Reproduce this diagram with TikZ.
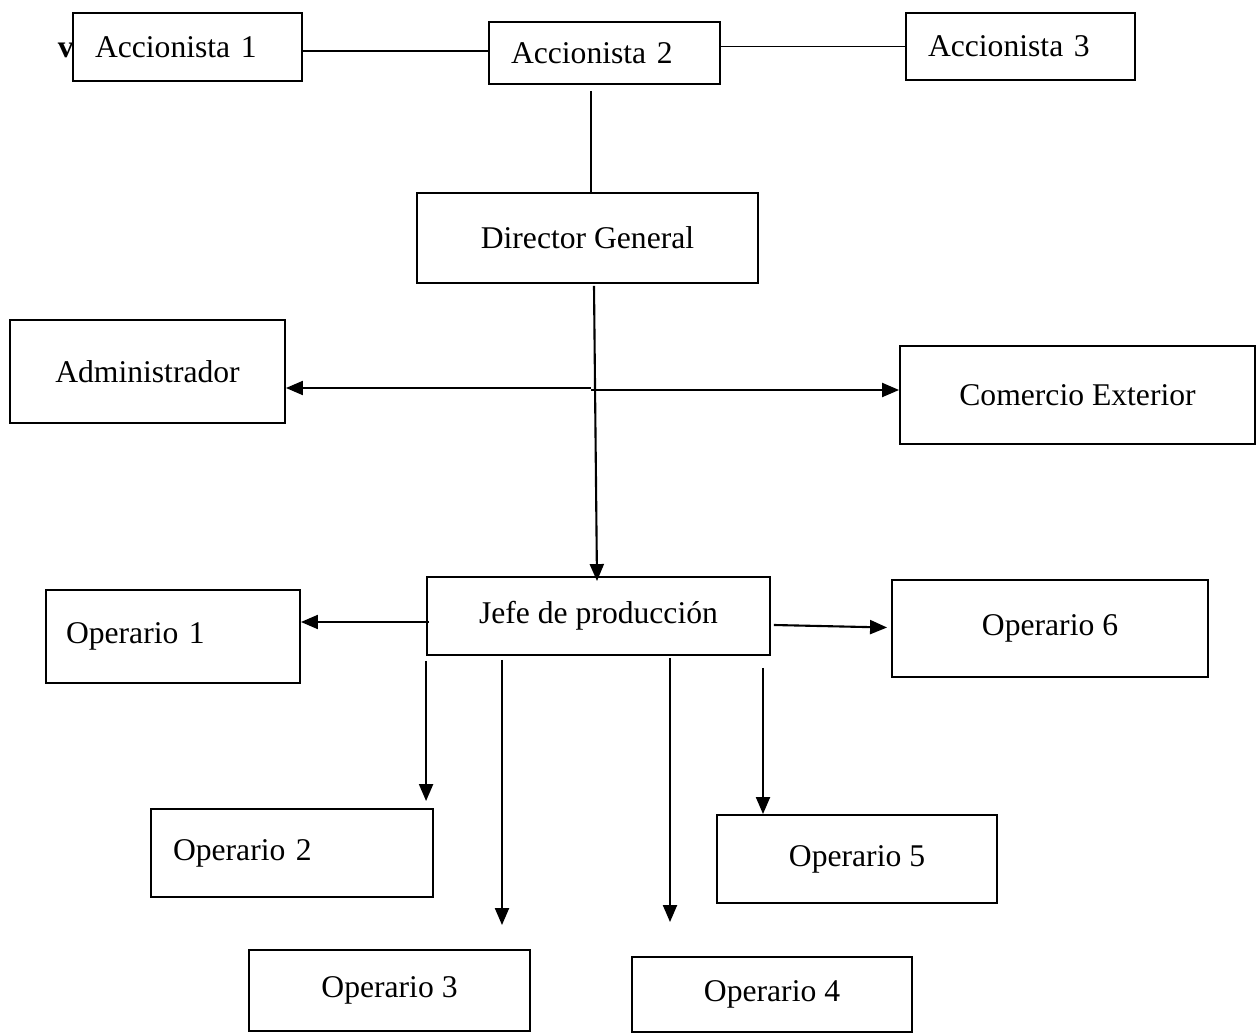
\documentclass[tikz,border=0pt]{standalone}
\usepackage{fontspec}
\setmainfont{Liberation Serif}
\usetikzlibrary{positioning,calc,arrows.meta}

\begin{document}
\begin{tikzpicture}[
	x=0.02cm, y=-0.02cm,
	% Style de las cajas
	caja/.style={
		rectangle,
		draw=black,
		line width=1.1pt,
		inner sep=0pt,
		font=\fontsize{18}{21}\selectfont
	},
	% Caja con texto a la izquierda
	cajaizq/.style={
		caja,
		align=left,
		inner xsep=0.44cm
	},
	linea/.style={draw=black, line width=0.6pt},
	flecha/.style={-{Triangle[length=0.34cm, width=0.28cm]}, draw=black, line width=1.2pt}
]
	\useasboundingbox (0,0) rectangle (1257,1033);
	
	% --- ACCIONISTAS ---
	\node[cajaizq, text width=3.70cm, minimum height=1.36cm] (acc1) at (187.5,47) {Accionista 1};
	\node[cajaizq, text width=3.74cm, minimum height=1.24cm] (acc2) at (604.5,53) {Accionista 2};
	\node[cajaizq, text width=3.70cm, minimum height=1.34cm] (acc3) at (1020.5,46.5) {Accionista 3};
	\node[font=\bfseries\fontsize{18}{21}\selectfont, inner sep=0pt, anchor=base east] (marca) at ($(acc1.base west)+(2,0)$) {v};
	
	% --- DIRECCION ---
	\node[caja, minimum width=6.82cm, minimum height=1.8cm] (dir) at (587.5,238) {Director General};
	\node[caja, minimum width=5.5cm, minimum height=2.06cm] (adm) at (147.5,371.5) {Administrador};
	\node[caja, minimum width=7.1cm, minimum height=1.96cm] (com) at (1077.5,395) {Comercio Exterior};
	\node[caja, minimum width=6.86cm, minimum height=1.56cm] (jefe) at (598.5,616) {Jefe de producción};
	
	% --- OPERARIOS ---
	\node[cajaizq, inner xsep=0.4cm, text width=4.28cm, minimum height=1.86cm] (op1) at (173,636.5) {Operario 1};
	\node[cajaizq, text width=4.76cm, minimum height=1.76cm] (op2) at (292,853) {Operario 2};
	\node[caja, minimum width=5.62cm, minimum height=1.62cm] (op3) at (389.5,990.5) {Operario 3};
	\node[caja, minimum width=5.6cm, minimum height=1.5cm] (op4) at (772,994.5) {Operario 4};
	\node[caja, minimum width=5.6cm, minimum height=1.76cm] (op5) at (857,859) {Operario 5};
	\node[caja, minimum width=6.32cm, minimum height=1.94cm] (op6) at (1050,628.5) {Operario 6};
	
	% --- LINEAS ENTRE ACCIONISTAS ---
	\draw[linea] ($(acc1.east)+(0,4)$) coordinate (a1) -- (a1 -| acc2.west);
	\draw[linea] (acc3.west -| acc2.east) -- (acc3.west);
	\draw[linea] ($(acc2.south -| dir.north)+(3.5,6)$) -- ($(dir.north)+(3.5,0)$);
	
	% --- FLECHAS DEL DIRECTOR ---
	\draw[flecha] ($(dir.south)+(6.5,2)$) -- ($(jefe.north)+(-1.5,5)$);
	\coordinate (cruce) at (591,388);
	\draw[flecha] (cruce) -- (cruce -| adm.east);
	\draw[flecha] ($(cruce)+(0,2)$) coordinate (c2) -- (c2 -| com.west);
	
	% --- FLECHAS DEL JEFE ---
	\draw[flecha] ($(jefe.west)+(3,6)$) coordinate (j1) -- (j1 -| op1.east);
	\draw[flecha] ($(jefe.east)+(3,9)$) -- ($(op6.west)+(-4,-1)$);
	\draw[flecha] ($(jefe.south west)+(0,5)$) -- ($(jefe.south west |- op2.north)+(0,-7)$);
	\draw[flecha] ($(jefe.south)+(-96.5,4)$) -- ($(jefe.south |- op3.north)+(-96.5,-24)$);
	\draw[flecha] ($(jefe.south)+(71.5,2)$) -- ($(jefe.south |- op4.north)+(71.5,-34)$);
	\draw[flecha] ($(jefe.south)+(164.5,12)$) -- ($(jefe.south |- op5.north)+(164.5,0)$);
	
\end{tikzpicture}
\end{document}
